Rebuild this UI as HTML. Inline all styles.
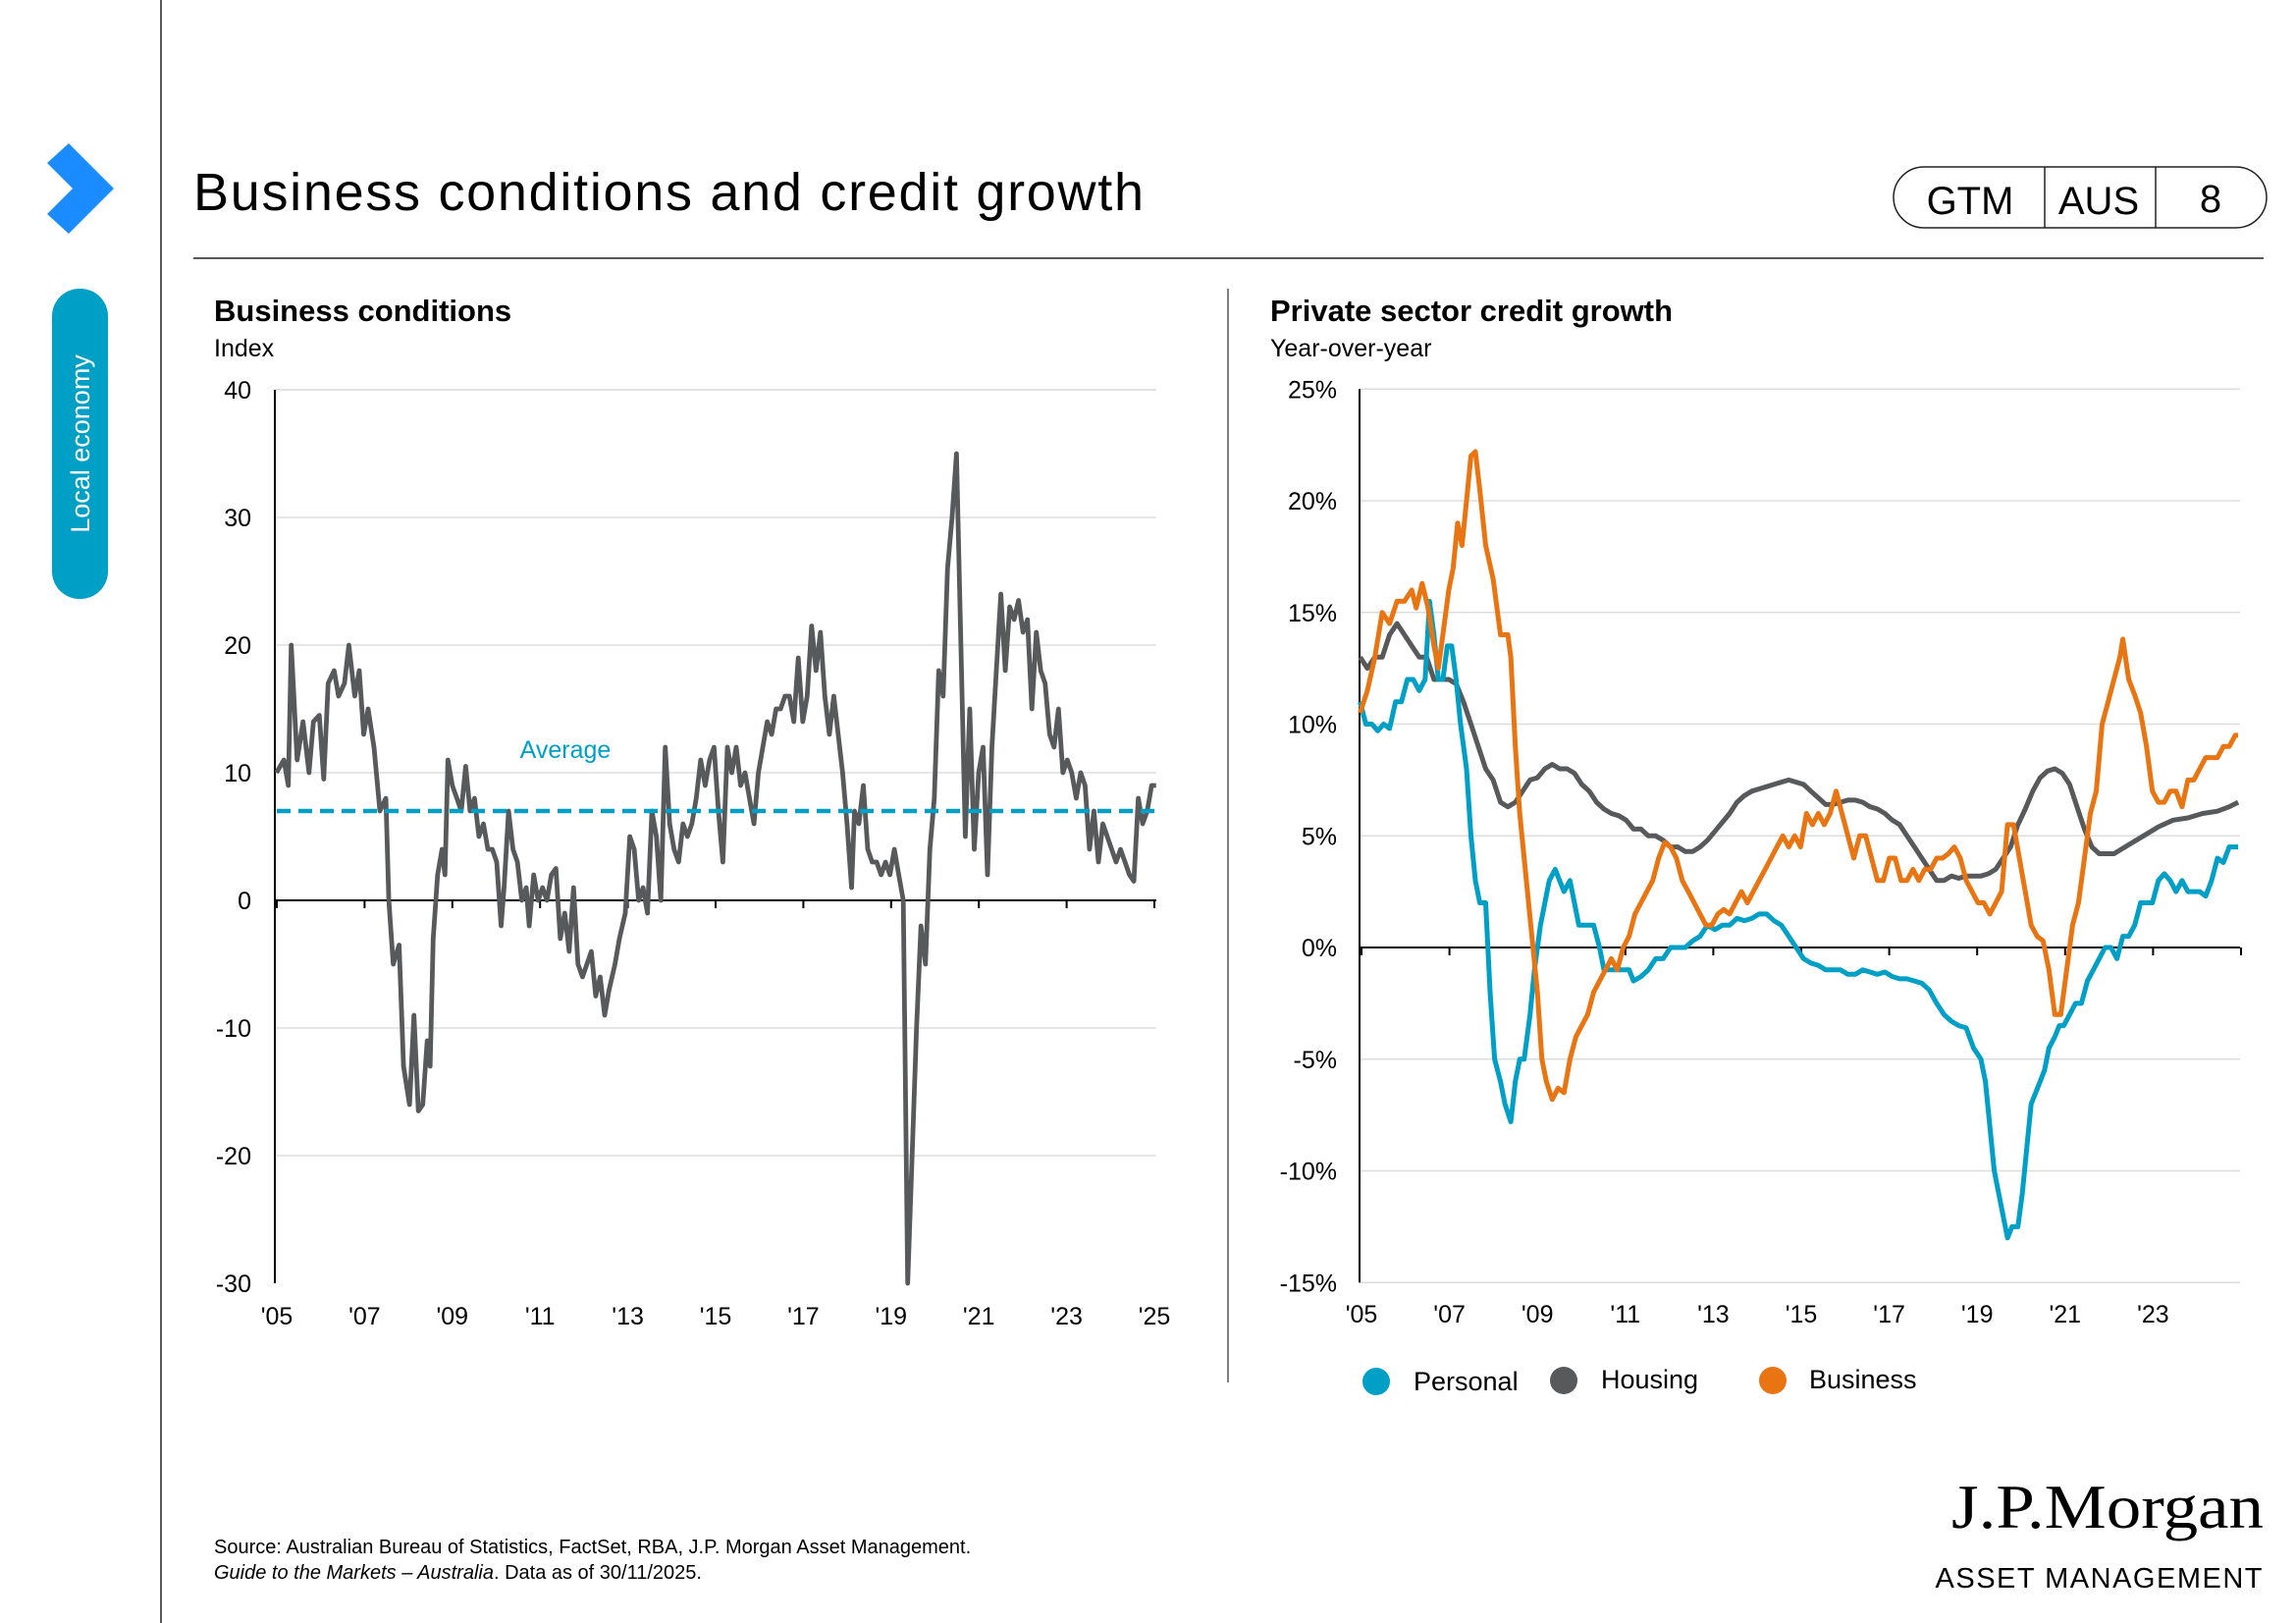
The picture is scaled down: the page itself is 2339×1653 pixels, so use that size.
<!DOCTYPE html>
<html><head><meta charset="utf-8"><style>
html,body{margin:0;padding:0;background:#fff;}
body{width:2339px;height:1653px;position:relative;overflow:hidden;font-family:"Liberation Sans",Arial,sans-serif;}
</style></head><body>
<svg id="s" width="2339" height="1653" xmlns="http://www.w3.org/2000/svg" style="position:absolute;left:0;top:0">
<line x1="164" y1="0" x2="164" y2="1653" stroke="#222" stroke-width="1.5"/>
<polygon points="48,166 70,146 116,192 70,238 48,218 74,192" fill="#1a8cff"/>
<rect x="53" y="294" width="57" height="316" rx="28" fill="#009fc6"/>
<text transform="translate(91,452) rotate(-90)" text-anchor="middle" fill="#fff" font-size="27" font-family="Liberation Sans">Local economy</text>
<text x="197" y="214" font-size="54" font-family="Liberation Sans" fill="#000" textLength="968">Business conditions and credit growth</text>
<line x1="197" y1="263" x2="2306" y2="263" stroke="#222" stroke-width="1.5"/>
<rect x="1929" y="170" width="380" height="62" rx="31" fill="none" stroke="#222" stroke-width="1.5"/>
<line x1="2083" y1="170" x2="2083" y2="232" stroke="#222" stroke-width="1.5"/>
<line x1="2196" y1="170" x2="2196" y2="232" stroke="#222" stroke-width="1.5"/>
<text x="2007" y="218" text-anchor="middle" font-size="40">GTM</text>
<text x="2138" y="218" text-anchor="middle" font-size="40">AUS</text>
<text x="2252" y="216" text-anchor="middle" font-size="40">8</text>
<line x1="1251" y1="294" x2="1251" y2="1408" stroke="#555" stroke-width="1.5"/>
<text x="218" y="327" font-size="31" font-weight="bold">Business conditions</text>
<text x="218" y="363" font-size="25">Index</text>
<text x="1294" y="327" font-size="31" font-weight="bold">Private sector credit growth</text>
<text x="1294" y="363" font-size="25">Year-over-year</text>
<g id="L"></g><g id="R"></g>
<text x="576" y="772" font-size="25" fill="#009fc6" text-anchor="middle">Average</text>
<circle cx="1402" cy="1407" r="14" fill="#009fc6"/><text x="1440" y="1416" font-size="27">Personal</text>
<circle cx="1593" cy="1406" r="14" fill="#58595b"/><text x="1631" y="1414" font-size="27">Housing</text>
<circle cx="1806" cy="1406" r="14" fill="#e87511"/><text x="1843" y="1414" font-size="27">Business</text>
<text x="218" y="1582" font-size="20">Source: Australian Bureau of Statistics, FactSet, RBA, J.P. Morgan Asset Management.</text>
<text x="218" y="1608" font-size="20"><tspan font-style="italic">Guide to the Markets – Australia</tspan>. Data as of 30/11/2025.</text>
<text x="1988" y="1556" font-size="64" font-family="Liberation Serif" textLength="318" lengthAdjust="spacingAndGlyphs">J.P.Morgan</text>
<text x="2306" y="1617" text-anchor="end" font-size="29" letter-spacing="1.5">ASSET MANAGEMENT</text>
</svg>
<script>
var NS="http://www.w3.org/2000/svg";
function el(g,t,a,txt){var e=document.createElementNS(NS,t);for(var k in a)e.setAttribute(k,a[k]);if(txt!==undefined)e.textContent=txt;document.getElementById(g).appendChild(e);return e;}
var Ly=function(v){return 917-v*13.0};
for(var v=-30;v<=40;v+=10){ if(v!==0&&v!==-30) el("L","line",{x1:280,x2:1178,y1:Ly(v),y2:Ly(v),stroke:"#ddd","stroke-width":1.5});
 el("L","text",{x:256,y:Ly(v)+9,"text-anchor":"end","font-size":25},String(v));}
el("L","line",{x1:280,x2:1178,y1:Ly(40),y2:Ly(40),stroke:"#ddd","stroke-width":1.5});
el("L","line",{x1:280,x2:280,y1:Ly(40),y2:Ly(-30),stroke:"#000","stroke-width":2});
el("L","line",{x1:280,x2:1178,y1:Ly(0),y2:Ly(0),stroke:"#000","stroke-width":2});
var yrs=["'05","'07","'09","'11","'13","'15","'17","'19","'21","'23","'25"];
for(var i=0;i<11;i++){var x=282+i*89.4;el("L","line",{x1:x,x2:x,y1:917,y2:925,stroke:"#000","stroke-width":2});el("L","text",{x:x,y:1349,"text-anchor":"middle","font-size":25},yrs[i]);}
var bc=[187,10,192,11,195,9,197,20,201,11,205,14,209,10,212,14,216,14.5,219,9.5,222,17,226,18,229,16,233,17,236,20,240,16,243,18,246,13,249,15,253,12,257,7,261,8,263,0,266,-5,270,-3.5,273,-13,277,-16,280,-9,283,-16.5,286,-16,289,-11,291,-13,293,-3,296,2,299,4,301,2,303,11,306,9,309,8,312,7,315,10.5,318,7,321,8,324,5,327,6,330,4,333,4,336,3,339,-2,341,1,344,7,347,4,350,3,353,0,356,1,358,-2,361,2,364,0,367,1,370,0,373,2,376,2.5,379,-3,382,-1,385,-4,388,1,391,-5,394,-6,397,-5,400,-4,403,-7.5,406,-6,409,-9,412,-7,416,-5,419,-3,423,-1,426,5,429,4,432,0,435,1,438,-1,441,7,444,5,447,0,450,12,453,6,456,4,459,3,462,6,465,5,468,6,471,8,474,11,477,9,480,11,483,12,486,7,489,3,492,12,495,10,498,12,501,9,504,10,507,8,510,6,513,10,516,12,519,14,522,13,525,15,528,15,531,16,534,16,537,14,540,19,543,14,546,16,549,21.5,552,18,555,21,558,16,561,13,564,16,567,13,570,10,573,6,576,1,578,7,581,6,584,9,587,4,590,3,593,3,596,2,599,3,602,2,605,4,608,2,611,0,614,-30,617,-20,620,-10,623,-2,626,-5,629,4,632,8,635,18,638,16,641,26,644,30,647,35,650,20,653,5,656,15,659,4,662,10,665,12,668,2,671,12,674,18,677,24,680,18,683,23,686,22,689,23.5,692,21,695,22,698,15,701,21,704,18,707,17,710,13,713,12,716,15,719,10,722,11,725,10,728,8,731,10,734,9,737,4,740,7,743,3,746,6,749,5,752,4,755,3,758,4,761,3,764,2,767,1.5,770,8,773,6,776,7,779,9,782,9];
function path(g,arr,fy,col,w){var d="";for(var i=0;i<arr.length;i+=2){d+=(i?"L":"M")+(arr[i]*1.506).toFixed(1)+","+fy(arr[i+1]).toFixed(1);}el(g,"path",{d:d,fill:"none",stroke:col,"stroke-width":w,"stroke-linejoin":"round"});}
path("L",bc,Ly,"#58595b",4.8);
el("L","line",{x1:282,x2:1176,y1:Ly(7),y2:Ly(7),stroke:"#009fc6","stroke-width":4.5,"stroke-dasharray":"14,8"});
var Ry=function(v){return 965-v*22.75};
var labs={25:"25%",20:"20%",15:"15%",10:"10%",5:"5%",0:"0%","-5":"-5%","-10":"-10%","-15":"-15%"};
for(var v=-15;v<=25;v+=5){ if(v!==0) el("R","line",{x1:1385,x2:2282,y1:Ry(v),y2:Ry(v),stroke:"#ddd","stroke-width":1.5});
 el("R","text",{x:1362,y:Ry(v)+9,"text-anchor":"end","font-size":25},labs[v]);}
el("R","line",{x1:1385,x2:1385,y1:Ry(25),y2:Ry(-15),stroke:"#000","stroke-width":2});
el("R","line",{x1:1385,x2:2282,y1:Ry(0),y2:Ry(0),stroke:"#000","stroke-width":2});
var ry=["'05","'07","'09","'11","'13","'15","'17","'19","'21","'23"];
for(var i=0;i<11;i++){var x=1387+i*89.6;el("R","line",{x1:x,x2:x,y1:965,y2:973,stroke:"#000","stroke-width":2});if(i<10)el("R","text",{x:x,y:1347,"text-anchor":"middle","font-size":25},ry[i]);}
var hs=[920,13,925,12.5,930,13,935,13,940,14,945,14.5,950,14,955,13.5,960,13,965,13,970,12,975,12,980,12,985,11.8,990,11,995,10,1000,9,1005,8,1010,7.5,1015,6.5,1020,6.3,1025,6.5,1030,7,1035,7.5,1040,7.6,1045,8,1050,8.2,1055,8,1060,8,1065,7.8,1070,7.3,1075,7,1080,6.5,1085,6.2,1090,6,1095,5.9,1100,5.7,1105,5.3,1110,5.3,1115,5,1120,5,1125,4.8,1130,4.5,1135,4.5,1140,4.3,1145,4.3,1150,4.5,1155,4.8,1160,5.2,1165,5.6,1170,6,1175,6.5,1180,6.8,1185,7,1190,7.1,1195,7.2,1200,7.3,1205,7.4,1210,7.5,1215,7.4,1220,7.3,1225,7,1230,6.7,1235,6.4,1240,6.4,1245,6.5,1250,6.6,1255,6.6,1260,6.5,1265,6.3,1270,6.2,1275,6,1280,5.7,1285,5.5,1290,5,1295,4.5,1300,4,1305,3.5,1310,3,1315,3,1320,3.2,1325,3.1,1330,3.2,1335,3.2,1340,3.2,1345,3.3,1350,3.5,1355,4,1360,4.5,1365,5.5,1370,6.2,1375,7,1380,7.6,1385,7.9,1390,8,1395,7.8,1400,7.3,1405,6.3,1410,5.3,1415,4.5,1420,4.2,1430,4.2,1440,4.6,1450,5,1460,5.4,1470,5.7,1480,5.8,1490,6,1500,6.1,1508,6.3,1514,6.5];
var ps=[920,11,924,10,928,10,932,9.7,936,10,940,9.8,944,11,948,11,952,12,956,12,960,11.5,964,12,967,15.5,970,14,973,12,976,12,979,13.5,982,13.5,985,12,988,10,992,8,995,5,998,3,1001,2,1005,2,1008,-2,1011,-5,1015,-6,1018,-7,1022,-7.8,1025,-6,1028,-5,1031,-5,1035,-3,1038,-1,1042,1,1045,2,1048,3,1052,3.5,1055,3,1058,2.5,1062,3,1065,2,1068,1,1072,1,1075,1,1078,1,1082,0,1085,-1,1088,-1,1092,-1,1095,-1,1098,-1,1102,-1,1105,-1.5,1110,-1.3,1115,-1,1120,-0.5,1125,-0.5,1130,0,1135,0,1140,0,1145,0.3,1150,0.5,1155,1,1160,0.8,1165,1,1170,1,1175,1.3,1180,1.2,1185,1.3,1190,1.5,1195,1.5,1200,1.2,1205,1,1210,0.5,1215,0,1220,-0.5,1225,-0.7,1230,-0.8,1235,-1,1240,-1,1245,-1,1250,-1.2,1255,-1.2,1260,-1,1265,-1.1,1270,-1.2,1275,-1.1,1280,-1.3,1285,-1.4,1290,-1.4,1295,-1.5,1300,-1.6,1305,-1.9,1310,-2.5,1315,-3,1320,-3.3,1325,-3.5,1330,-3.6,1335,-4.5,1340,-5,1343,-6,1346,-8,1349,-10,1352,-11,1355,-12,1358,-13,1361,-12.5,1365,-12.5,1368,-11,1371,-9,1374,-7,1377,-6.5,1380,-6,1383,-5.5,1386,-4.5,1390,-4,1393,-3.5,1396,-3.5,1400,-3,1404,-2.5,1408,-2.5,1412,-1.5,1416,-1,1420,-0.5,1424,0,1428,0,1432,-0.5,1436,0.5,1440,0.5,1444,1,1448,2,1452,2,1456,2,1460,3,1464,3.3,1468,3,1472,2.5,1476,3,1480,2.5,1484,2.5,1488,2.5,1492,2.3,1496,3,1500,4,1504,3.8,1508,4.5,1514,4.5];
var bs=[920,10.5,925,11.5,930,13,935,15,940,14.5,945,15.5,950,15.5,955,16,958,15.2,962,16.3,966,15.2,970,13.5,973,12.5,976,14,980,16,983,17,986,19,989,18,992,20,995,22,998,22.2,1001,20.5,1005,18,1010,16.5,1015,14,1020,14,1022,13,1025,9,1028,6,1031,4,1034,2,1037,0,1040,-2,1043,-5,1046,-6,1050,-6.8,1054,-6.3,1058,-6.5,1062,-5,1066,-4,1070,-3.5,1074,-3,1078,-2,1082,-1.5,1086,-1,1090,-0.5,1094,-1,1098,0,1102,0.5,1106,1.5,1110,2,1114,2.5,1118,3,1122,4,1126,4.7,1130,4.5,1134,4,1138,3,1142,2.5,1146,2,1150,1.5,1154,1,1158,1,1162,1.5,1166,1.7,1170,1.5,1174,2,1178,2.5,1182,2,1186,2.5,1190,3,1194,3.5,1198,4,1202,4.5,1206,5,1210,4.5,1214,5,1218,4.5,1222,6,1226,5.5,1230,6,1234,5.5,1238,6,1242,7,1246,6,1250,5,1254,4,1258,5,1262,5,1266,4,1270,3,1274,3,1278,4,1282,4,1286,3,1290,3,1294,3.5,1298,3,1302,3.5,1306,3.5,1310,4,1314,4,1318,4.2,1322,4.5,1326,4,1330,3,1334,2.5,1338,2,1342,2,1346,1.5,1350,2,1354,2.5,1358,5.5,1362,5.5,1366,4,1370,2.5,1374,1,1378,0.5,1382,0.3,1386,-1,1390,-3,1394,-3,1398,-1,1402,1,1406,2,1410,4,1414,6,1418,7,1422,10,1426,11,1430,12,1434,13,1436,13.8,1440,12,1444,11.3,1448,10.5,1452,9,1456,7,1460,6.5,1464,6.5,1468,7,1472,7,1476,6.3,1480,7.5,1484,7.5,1488,8,1492,8.5,1496,8.5,1500,8.5,1504,9,1508,9,1512,9.5,1514,9.5];
path("R",hs,Ry,"#58595b",5);
path("R",ps,Ry,"#009fc6",5);
path("R",bs,Ry,"#e87511",5);
</script>
</body></html>
